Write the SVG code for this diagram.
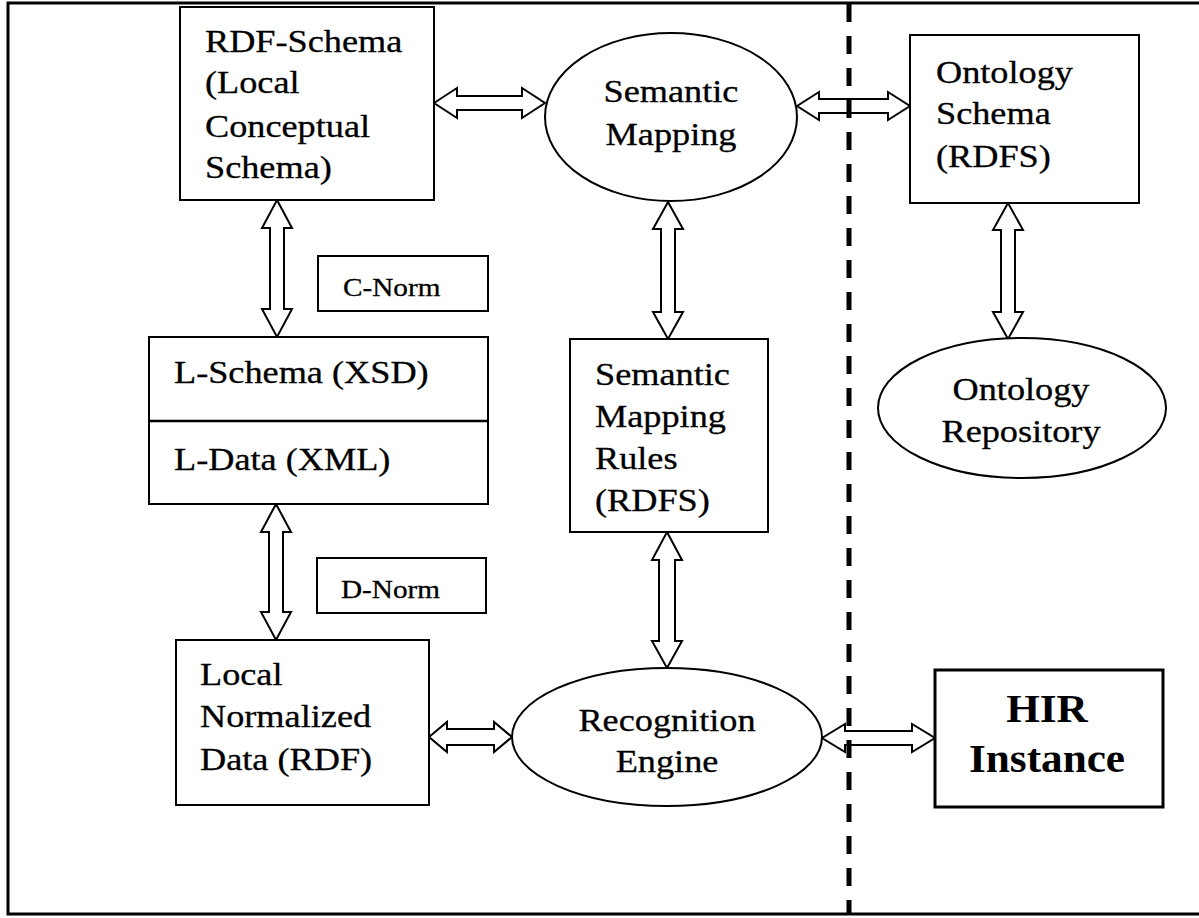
<svg xmlns="http://www.w3.org/2000/svg" width="1199" height="918" viewBox="0 0 1199 918">
  <style>
    .box { fill: #fff; stroke: #000; stroke-width: 2; }
    .oval { fill: #fff; stroke: #000; stroke-width: 2; }
    .bold-box { fill: #fff; stroke: #000; stroke-width: 3; }
    .arrow { fill: #fff; stroke: #000; stroke-width: 2; stroke-linejoin: miter; }
    .t { font-family: "Liberation Serif", "Times New Roman", serif; font-size: 31px; fill: #000; stroke: #000; stroke-width: 0.3; }
    .s { font-family: "Liberation Serif", "Times New Roman", serif; font-size: 25px; fill: #000; stroke: #000; stroke-width: 0.3; }
    .b { font-family: "Liberation Serif", "Times New Roman", serif; font-size: 40px; font-weight: bold; fill: #000; }
    .mid { text-anchor: middle; }
  </style>

  <rect width="1199" height="918" fill="#fff"/>

  <!-- outer frame (open on the right) -->
  <path d="M1199 3 H8 V914 H1199" fill="none" stroke="#000" stroke-width="3"/>

  <!-- double-headed block arrows -->
  <g id="connectors">
    <!-- RDF-Schema <-> Semantic Mapping -->
    <polygon class="arrow" points="434,103 457,88 457,96 522,96 522,88 545,103 522,118 522,110 457,110 457,118"/>
    <!-- Semantic Mapping <-> Ontology Schema -->
    <polygon class="arrow" points="797,106 819,92 819,99 888,99 888,92 910,106 888,120 888,113 819,113 819,120"/>
    <!-- RDF-Schema <-> L-Schema -->
    <polygon class="arrow" points="277,200 292,228 284,228 284,309 292,309 277,337 262,309 270,309 270,228 262,228"/>
    <!-- L-Data <-> Local Normalized Data -->
    <polygon class="arrow" points="276,504 291,532 283,532 283,612 291,612 276,640 261,612 269,612 269,532 261,532"/>
    <!-- Semantic Mapping <-> Semantic Mapping Rules -->
    <polygon class="arrow" points="668,202 683,229 675,229 675,312 683,312 668,339 653,312 661,312 661,229 653,229"/>
    <!-- Semantic Mapping Rules <-> Recognition Engine -->
    <polygon class="arrow" points="667,532 682,560 675,560 675,641 682,641 667,668 652,641 659,641 659,560 652,560"/>
    <!-- Ontology Schema <-> Ontology Repository -->
    <polygon class="arrow" points="1008,203 1023,230 1015,230 1015,312 1023,312 1008,339 993,312 1001,312 1001,230 993,230"/>
    <!-- Local Normalized Data <-> Recognition Engine -->
    <polygon class="arrow" points="429,737 447,722 447,729 494,729 494,722 512,737 494,752 494,745 447,745 447,752"/>
    <!-- Recognition Engine <-> HIR Instance -->
    <polygon class="arrow" points="822,738 845,724 845,731 912,731 912,724 935,738 912,752 912,745 845,745 845,752"/>
  </g>

  <!-- boundary between local and global side -->
  <line id="divider" x1="849" y1="4" x2="849" y2="913" stroke="#000" stroke-width="5" stroke-dasharray="18 14"/>

  <g id="rdf-schema">
    <rect class="box" x="180" y="7" width="254" height="193"/>
    <text class="t" transform="translate(205 52) scale(1.17 1)">RDF-Schema</text>
    <text class="t" transform="translate(205 93) scale(1.17 1)">(Local</text>
    <text class="t" transform="translate(205 137) scale(1.17 1)">Conceptual</text>
    <text class="t" transform="translate(205 178) scale(1.17 1)">Schema)</text>
  </g>

  <g id="semantic-mapping">
    <ellipse class="oval" cx="671" cy="117" rx="126" ry="84"/>
    <text class="t mid" transform="translate(671 102) scale(1.17 1)">Semantic</text>
    <text class="t mid" transform="translate(671 145) scale(1.17 1)">Mapping</text>
  </g>

  <g id="ontology-schema">
    <rect class="box" x="910" y="35" width="229" height="168"/>
    <text class="t" transform="translate(936 83) scale(1.17 1)">Ontology</text>
    <text class="t" transform="translate(936 124) scale(1.17 1)">Schema</text>
    <text class="t" transform="translate(936 167) scale(1.17 1)">(RDFS)</text>
  </g>

  <g id="c-norm">
    <rect class="box" x="318" y="256" width="170" height="55"/>
    <text class="s" transform="translate(343 296) scale(1.17 1)">C-Norm</text>
  </g>

  <g id="l-schema-data">
    <rect class="box" x="149" y="337" width="339" height="167"/>
    <line x1="149" y1="421" x2="488" y2="421" stroke="#000" stroke-width="2.5"/>
    <text class="t" transform="translate(174 383) scale(1.17 1)">L-Schema (XSD)</text>
    <text class="t" transform="translate(174 470) scale(1.17 1)">L-Data (XML)</text>
  </g>

  <g id="semantic-mapping-rules">
    <rect class="box" x="570" y="339" width="198" height="193"/>
    <text class="t" transform="translate(595 385) scale(1.17 1)">Semantic</text>
    <text class="t" transform="translate(595 427) scale(1.17 1)">Mapping</text>
    <text class="t" transform="translate(595 469) scale(1.17 1)">Rules</text>
    <text class="t" transform="translate(595 511) scale(1.17 1)">(RDFS)</text>
  </g>

  <g id="ontology-repository">
    <ellipse class="oval" cx="1022" cy="408" rx="144" ry="70"/>
    <text class="t mid" transform="translate(1021 400) scale(1.17 1)">Ontology</text>
    <text class="t mid" transform="translate(1021 442) scale(1.17 1)">Repository</text>
  </g>

  <g id="d-norm">
    <rect class="box" x="317" y="558" width="169" height="55"/>
    <text class="s" transform="translate(341 598) scale(1.17 1)">D-Norm</text>
  </g>

  <g id="local-normalized-data">
    <rect class="box" x="176" y="640" width="253" height="165"/>
    <text class="t" transform="translate(200 685) scale(1.17 1)">Local</text>
    <text class="t" transform="translate(200 727) scale(1.17 1)">Normalized</text>
    <text class="t" transform="translate(200 770) scale(1.17 1)">Data (RDF)</text>
  </g>

  <g id="recognition-engine">
    <ellipse class="oval" cx="667" cy="737" rx="155" ry="69"/>
    <text class="t mid" transform="translate(667 731) scale(1.17 1)">Recognition</text>
    <text class="t mid" transform="translate(667 772) scale(1.17 1)">Engine</text>
  </g>

  <g id="hir-instance">
    <rect class="bold-box" x="935" y="670" width="228" height="137"/>
    <text class="b mid" transform="translate(1047 722) scale(1.08 1)">HIR</text>
    <text class="b mid" transform="translate(1047 772) scale(1.08 1)">Instance</text>
  </g>
</svg>
